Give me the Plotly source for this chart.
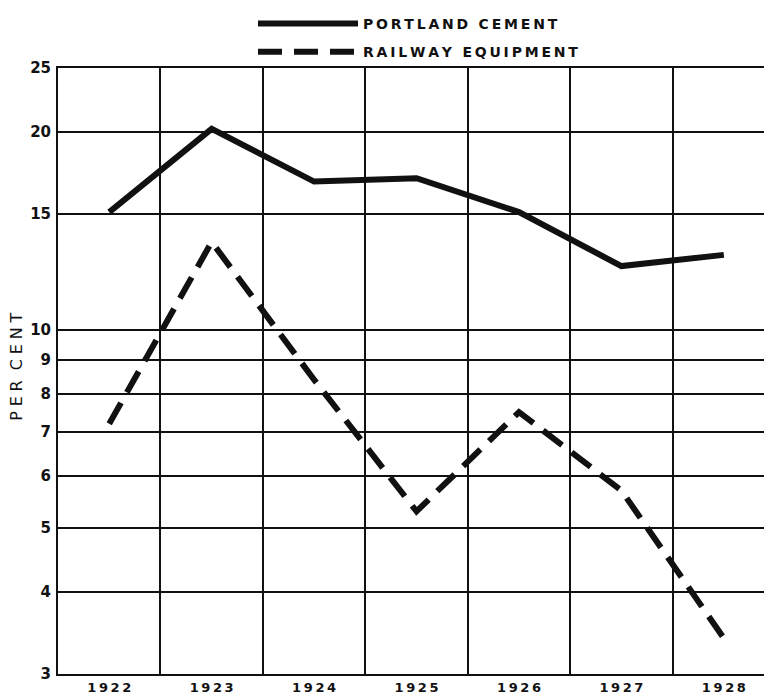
"""Portland cement vs railway equipment, per cent, 1922-1928 (log scale)."""

import plotly.graph_objects as go

YEARS = [1922, 1923, 1924, 1925, 1926, 1927, 1928]
PORTLAND_CEMENT = [15.1, 20.2, 16.8, 17.0, 15.1, 12.5, 13.0]
RAILWAY_EQUIPMENT = [7.2, 13.6, 8.4, 5.3, 7.5, 5.7, 3.4]

Y_TICKS = [3, 4, 5, 6, 7, 8, 9, 10, 15, 20, 25]
X_CELL_EDGES = [1922.5, 1923.5, 1924.5, 1925.5, 1926.5, 1927.5]

FONT = "DejaVu Sans"
INK = "#111111"

# the page body keeps its 8px margin, so the figure is shrunk by that much
PAGE_PAD = 8
FIG_W = 772 - PAGE_PAD
FIG_H = 697 - PAGE_PAD
PLOT_W = FIG_W - (58 - PAGE_PAD)


def spaced(text: str, gap: str = "\u2009") -> str:
    """Widen letter spacing with thin spaces, like the old lettering."""
    return gap.join(text)


fig = go.Figure()
fig.add_trace(
    go.Scatter(
        x=YEARS,
        y=PORTLAND_CEMENT,
        mode="lines",
        name=spaced("PORTLAND CEMENT"),
        line=dict(color=INK, width=6),
        legendgroup="a",
    )
)
fig.add_trace(
    go.Scatter(
        x=YEARS,
        y=RAILWAY_EQUIPMENT,
        mode="lines",
        name=spaced("RAILWAY EQUIPMENT"),
        line=dict(color=INK, width=6, dash="24px,12px"),
        legendgroup="b",
    )
)

fig.update_layout(
    width=FIG_W,
    height=FIG_H,
    margin=dict(l=58 - PAGE_PAD, r=0, t=68 - PAGE_PAD, b=23, autoexpand=False),
    paper_bgcolor="white",
    plot_bgcolor="white",
    font=dict(family=FONT, color=INK, size=13),
    showlegend=True,
    legend=dict(
        xref="container",
        yref="container",
        x=(253 - PAGE_PAD) / FIG_W,
        y=1 + 9 / FIG_H,
        xanchor="left",
        yanchor="top",
        bgcolor="rgba(0,0,0,0)",
        font=dict(size=14, family=FONT, weight="bold"),
        itemwidth=100,
        tracegroupgap=7,
    ),
)

# y axis title as an annotation, plotly misplaces it with autoexpand off
wide = "\u2009\u200a"
fig.add_annotation(
    text=spaced("PER", wide) + "  " + spaced("CENT", wide),
    xref="paper",
    yref="paper",
    x=(17 - 58) / PLOT_W,
    y=0.507,
    xanchor="center",
    yanchor="middle",
    textangle=-90,
    showarrow=False,
    font=dict(size=16, family=FONT, color=INK),
)

fig.update_xaxes(
    range=[1921.5, 1928.47],
    tickvals=YEARS,
    ticktext=[spaced(str(y)) for y in YEARS],
    tickfont=dict(size=13, family=FONT, weight="bold"),
    ticks="",
    showgrid=False,
    zeroline=False,
    showline=True,
    linecolor=INK,
    linewidth=2,
    mirror=True,
    minor=dict(tickvals=X_CELL_EDGES, showgrid=True, gridcolor=INK, gridwidth=1.5, ticks=""),
)

fig.update_yaxes(
    type="log",
    range=[0.4771, 1.3979],
    tickvals=Y_TICKS,
    ticktext=[str(v) for v in Y_TICKS],
    tickfont=dict(size=15, family=FONT, weight="bold"),
    ticklabelstandoff=2,
    ticks="",
    showgrid=True,
    gridcolor=INK,
    gridwidth=1.5,
    zeroline=False,
    showline=True,
    linecolor=INK,
    linewidth=2,
)

fig.write_html("out.html")
